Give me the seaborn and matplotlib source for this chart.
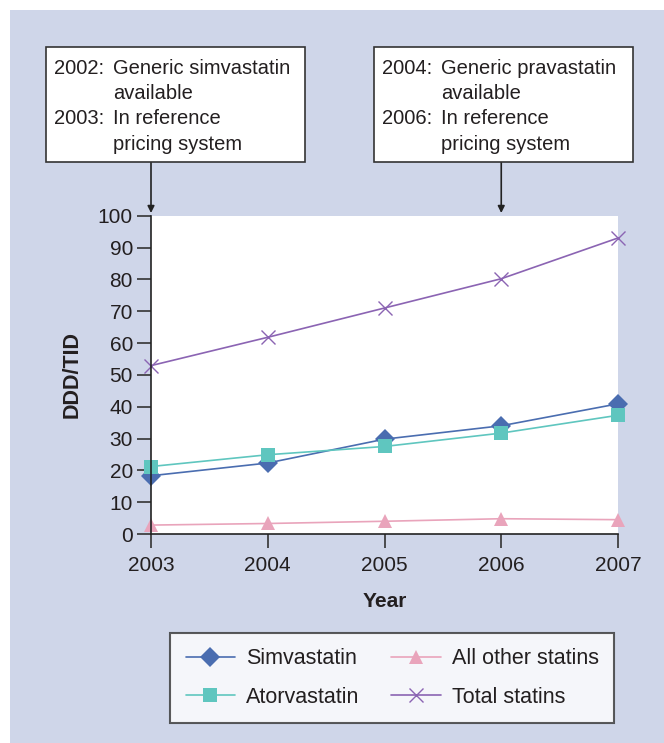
import matplotlib.pyplot as plt
import matplotlib.patches as mpatches
import matplotlib.transforms as mtransforms
import seaborn as sns
import pandas as pd

# Data (DDD/TID per year)
years = [2003, 2004, 2005, 2006, 2007]
simvastatin = [18.3, 22.3, 29.8, 34.0, 40.9]
atorvastatin = [21.2, 24.9, 27.5, 31.7, 37.3]
other_statins = [2.8, 3.3, 4.0, 4.8, 4.5]
total_statins = [52.9, 61.8, 71.0, 80.2, 93.0]

series_names = ['Simvastatin', 'Atorvastatin', 'All other statins', 'Total statins']
series_values = [simvastatin, atorvastatin, other_statins, total_statins]
series_colors = ['#4A6DB0', '#5FC6BF', '#E9A4BB', '#8B64B3']
series_markers = ['D', 's', '^', 'x']
series_sizes = [10, 10, 10.5, 10]

y_ticks = list(range(0, 101, 10))

df = pd.DataFrame({'Year': years})
for name, vals in zip(series_names, series_values):
    df[name] = vals

sns.set_theme(style='white')
plt.rcParams['font.family'] = ['Liberation Sans', 'DejaVu Sans']

bg = '#CFD6E9'
W, H = 664, 743
fig = plt.figure(figsize=(W / 100, H / 100), dpi=100)
fig.patch.set_facecolor('white')
fig.patches.append(mpatches.Rectangle((10 / W, 0), 1, 1 - 10 / H, transform=fig.transFigure,
                                      facecolor=bg, edgecolor='none', zorder=-10))

ax = fig.add_axes([151 / W, 1 - 534 / H, (618 - 151) / W, (534 - 215.7) / H])
ax.set_facecolor('white')

for name, col, mk, ms in zip(series_names, series_colors, series_markers, series_sizes):
    sns.lineplot(data=df, x='Year', y=name, ax=ax, color=col, marker=mk, markersize=ms,
                 markeredgecolor=col, markeredgewidth=1.0 if mk == 'x' else 0,
                 linewidth=1.2, clip_on=False, label=name, legend=False)
handles = ax.get_lines()

ax.set_xlim(years[0], years[-1])
ax.set_ylim(0, 100)
ax.set_xticks(years)
ax.set_yticks(y_ticks)
ax.tick_params(axis='both', direction='out', length=10, width=1.2, color='#333333',
               labelsize=15, labelcolor='#231F20', pad=6, bottom=True, left=True)
ax.tick_params(axis='y', pad=3)
for s in ['top', 'right']:
    ax.spines[s].set_visible(False)
for s in ['left', 'bottom']:
    ax.spines[s].set_color('#222222')
    ax.spines[s].set_linewidth(1.2)
ax.set_xlabel('Year', fontsize=15, fontweight='bold', color='#231F20', labelpad=12)
ax.set_ylabel('DDD/TID', fontsize=15.5, fontweight='bold', color='#231F20', labelpad=11)

# Annotation boxes with arrows
def px(x, y):
    return x / W, 1 - y / H

notes = [
    (46, 2003, [('2002:', 'Generic simvastatin'), ('', 'available'),
                ('2003:', 'In reference'), ('', 'pricing system')]),
    (374, 2006, [('2004:', 'Generic pravastatin'), ('', 'available'),
                 ('2006:', 'In reference'), ('', 'pricing system')]),
]
for bx, yr, lines in notes:
    x0, y0 = px(bx, 162)
    fig.patches.append(mpatches.Rectangle((x0, y0), 259 / W, 115 / H, transform=fig.transFigure,
                                          facecolor='white', edgecolor='#333333', linewidth=1.2))
    for i, (lab, txt) in enumerate(lines):
        ty = 68 + i * 25.5
        if lab:
            fig.text(*px(bx + 8, ty), lab, fontsize=14.5, color='#231F20', va='center', ha='left')
        fig.text(*px(bx + 67, ty), txt, fontsize=14.5, color='#231F20', va='center', ha='left')
    trans = mtransforms.blended_transform_factory(ax.transData, fig.transFigure)
    ax.annotate('', xy=(yr, 1 - 213 / H), xycoords=trans, xytext=(yr, 1 - 162 / H), textcoords=trans,
                arrowprops=dict(arrowstyle='-|>', color='#222222', lw=1.2, mutation_scale=10,
                                shrinkA=0, shrinkB=0), annotation_clip=False)

leg = fig.legend(handles, series_names, loc='upper left', bbox_to_anchor=(170 / W, 1 - 633 / H),
                 borderaxespad=0, ncol=2, fontsize=15.5, frameon=True, fancybox=False,
                 handlelength=2.3, handletextpad=0.5, columnspacing=1.5, labelspacing=0.8,
                 borderpad=0.72)
leg.get_frame().set_edgecolor('#333333')
leg.get_frame().set_linewidth(1.5)
for t in leg.get_texts():
    t.set_color('#231F20')

plt.savefig('out.png', dpi=100, facecolor=fig.get_facecolor())
